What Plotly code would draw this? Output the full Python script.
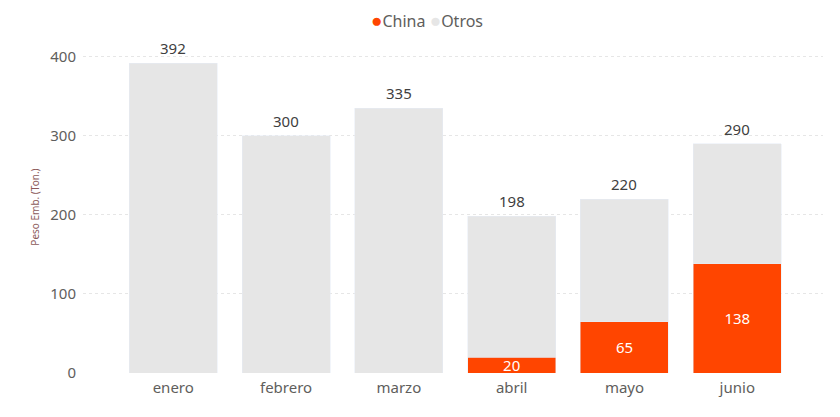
import plotly.graph_objects as go

meses = ['enero', 'febrero', 'marzo', 'abril', 'mayo', 'junio']
china = [0, 0, 0, 20, 65, 138]
otros = [392, 300, 335, 178, 155, 152]
totales = [c + o for c, o in zip(china, otros)]

rojo = '#FF4500'
gris = '#E6E6E6'
fuente = 'Noto Sans'

fig = go.Figure()

# barras apiladas
fig.add_trace(go.Bar(
    x=meses, y=china, name='China', marker_color=rojo,
    text=[str(v) if v > 0 else '' for v in china], textposition='inside',
    insidetextanchor='middle', textangle=0, constraintext='none',
    textfont=dict(color='white', size=15, family=fuente),
    width=0.78, hoverinfo='y+name',
))
fig.add_trace(go.Bar(
    x=meses, y=otros, name='Otros', marker_color=gris,
    width=0.78, hoverinfo='y+name',
))

# totales encima de cada barra
for mes, total in zip(meses, totales):
    fig.add_annotation(
        x=mes, y=total, text=str(total), showarrow=False,
        yanchor='bottom', yshift=3,
        font=dict(color='#404040', size=15, family=fuente),
    )

# leyenda arriba al centro, puntos pegados al texto
punto = "<span style='color:%s;font-size:19px'>●</span>"
fig.add_annotation(
    xref='paper', yref='paper', x=(419 - 75) / 740, y=1 + (33 - 12) / 332,
    xanchor='center', yanchor='middle', showarrow=False,
    text=(punto % rojo) + "China " + (punto % gris) + "Otros",
    font=dict(size=16, color='#605E5C', family=fuente),
)

fig.update_layout(
    barmode='stack',
    width=840, height=417,
    plot_bgcolor='white', paper_bgcolor='white',
    margin=dict(l=75, r=25, t=33, b=52, autoexpand=False),
    font=dict(family=fuente, color='#605E5C', size=14),
    showlegend=False,
)

fig.update_xaxes(
    range=[-0.8, 5.76], showgrid=False, ticks='', showline=False,
    tickfont=dict(size=15, color='#605E5C'), automargin=False,
    ticklabelstandoff=4,
)
fig.update_yaxes(
    range=[0, 420], tickvals=[0, 100, 200, 300, 400],
    showgrid=True, gridcolor='#E6E6E6', griddash='dot', gridwidth=1,
    zeroline=False, automargin=False,
    tickfont=dict(size=15, color='#605E5C'), ticklabelstandoff=6,
    title=dict(text='Peso Emb. (Ton.)', font=dict(size=10, color='#8C5A5A'), standoff=8),
)

fig.write_html('out.html')
